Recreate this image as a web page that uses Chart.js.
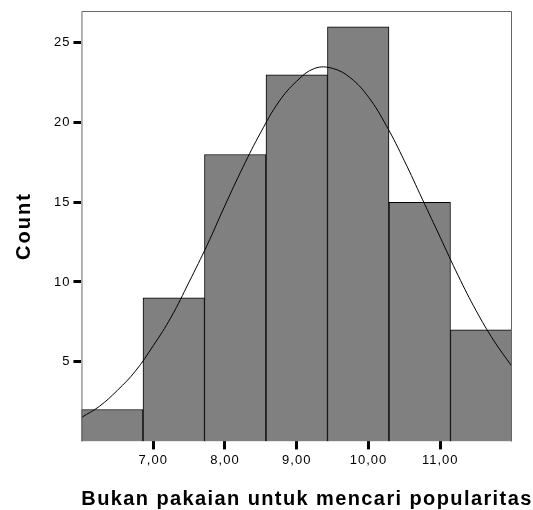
<!DOCTYPE html>
<html>
<head>
<meta charset="utf-8">
<script src="https://cdn.jsdelivr.net/npm/chart.js@4/dist/chart.umd.min.js"></script>
<style>
  html, body { margin: 0; padding: 0; background: #fff; }
  #wrap { width: 533px; height: 510px; }
</style>
</head>
<body>
<div id="wrap"><canvas id="hist"></canvas></div>
<script>
// histogram bins (midpoints) and counts
const binMids = [6.429, 7.286, 8.143, 9.0, 9.857, 10.714, 11.571];
const counts = [2, 9, 18, 23, 26, 15, 7];

// normal curve
const curveX = [6.0, 6.25, 6.5, 6.75, 7.0, 7.25, 7.5, 7.75, 8.0, 8.25, 8.5, 8.75, 9.0,
                9.25, 9.5, 9.75, 10.0, 10.25, 10.5, 10.75, 11.0, 11.25, 11.5, 11.75, 12.0];
const curveY = [1.5, 2.2, 3.2, 4.4, 6.0, 7.8, 10.0, 12.3, 14.8, 17.2, 19.4, 21.3, 22.6,
                23.4, 23.4, 22.8, 21.6, 19.8, 17.6, 15.2, 12.8, 10.4, 8.2, 6.3, 4.7];

const xTicks = [7, 8, 9, 10, 11];
const yTicks = [5, 10, 15, 20, 25];

const xTitle = "Bukan pakaian untuk mencari popularitas";
const yTitle = "Count";

const FONT = "'Liberation Sans', Arial, sans-serif";

// SPSS draws its text a bit spread out
const spacingPlugin = {
    id: "spacing",
    beforeLayout(chart) { chart.ctx.letterSpacing = "1px"; },
    beforeDraw(chart) { chart.ctx.letterSpacing = "1px"; },
};

// gray frame around the plot area + the two axis titles
const framePlugin = {
    id: "frame",
    afterDatasetsDraw(chart) {
        const { ctx, chartArea: a } = chart;
        ctx.save();
        ctx.strokeStyle = "#666";
        ctx.lineWidth = 1;
        ctx.beginPath();
        ctx.moveTo(a.left + 0.5, a.bottom);
        ctx.lineTo(a.left + 0.5, a.top + 0.5);
        ctx.lineTo(a.right - 0.5, a.top + 0.5);
        ctx.lineTo(a.right - 0.5, a.bottom);
        ctx.stroke();
        ctx.restore();
    },
    afterDraw(chart) {
        const { ctx, chartArea: a } = chart;
        ctx.save();
        ctx.fillStyle = "#000";
        ctx.font = "bold 20px " + FONT;
        ctx.textAlign = "center";
        ctx.textBaseline = "alphabetic";
        ctx.letterSpacing = "1.4px";
        ctx.fillText(xTitle, 307, 505);
        ctx.translate(30, 226);
        ctx.rotate(-Math.PI / 2);
        ctx.letterSpacing = "2px";
        ctx.fillText(yTitle, 0, 0);
        ctx.restore();
    },
};

new Chart(document.getElementById("hist"), {
    type: "bar",
    data: {
        datasets: [
            {
                type: "line",
                data: curveX.map((x, i) => ({ x: x, y: curveY[i] })),
                borderColor: "#000",
                borderWidth: 1,
                pointRadius: 0,
                tension: 0.4,
                fill: false,
                order: 0,
            },
            {
                type: "bar",
                data: binMids.map((x, i) => ({ x: x, y: counts[i] })),
                backgroundColor: "#808080",
                borderColor: "#000",
                borderWidth: 1,
                barPercentage: 1,
                categoryPercentage: 1,
                order: 1,
            },
        ],
    },
    plugins: [spacingPlugin, framePlugin],
    options: {
        responsive: true,
        maintainAspectRatio: false,
        animation: false,
        layout: { padding: { top: 11, right: 21, left: 51, bottom: 39 } },
        plugins: {
            legend: { display: false },
            tooltip: { enabled: false },
        },
        scales: {
            x: {
                type: "linear",
                min: 6,
                max: 12,
                offset: false,
                afterBuildTicks: (axis) => {
                    axis.ticks = xTicks.map((v) => ({ value: v }));
                },
                ticks: {
                    color: "#000",
                    font: { family: FONT, size: 13 },
                    padding: 3,
                    maxRotation: 0,
                    callback: (v) => v.toFixed(2).replace(".", ","),
                },
                grid: {
                    offset: false,
                    drawOnChartArea: false,
                    drawTicks: true,
                    tickLength: 8,
                    tickWidth: 3,
                    tickColor: "#000",
                },
                border: { display: false },
            },
            y: {
                min: 0,
                max: 27,
                afterBuildTicks: (axis) => {
                    axis.ticks = yTicks.map((v) => ({ value: v }));
                },
                ticks: {
                    color: "#000",
                    font: { family: FONT, size: 13 },
                    padding: 3,
                },
                grid: {
                    drawOnChartArea: false,
                    drawTicks: true,
                    tickLength: 8,
                    tickWidth: 3,
                    tickColor: "#000",
                },
                border: { display: false },
            },
        },
    },
});
</script>
</body>
</html>
